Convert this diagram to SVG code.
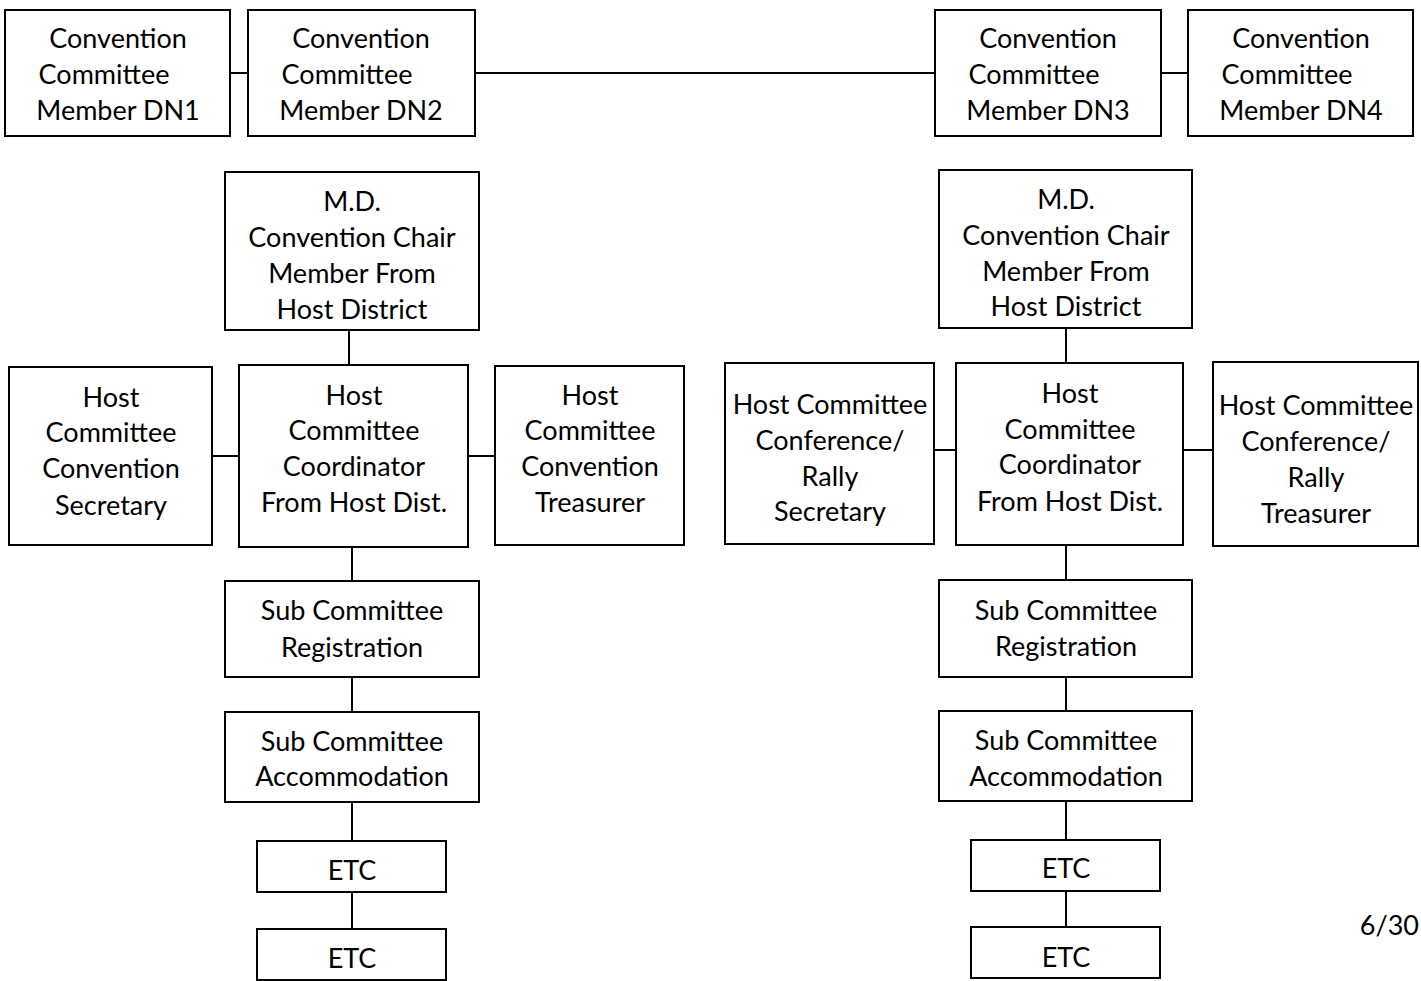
<svg xmlns="http://www.w3.org/2000/svg" width="1421" height="981" viewBox="0 0 1421 981">
<style>
rect{fill:#fff;stroke:#000;stroke-width:2}
line{stroke:#000;stroke-width:2}
text{font-family:Lato,"Open Sans",sans-serif;font-size:27px;fill:#000;text-anchor:middle;dominant-baseline:central}
</style>
<rect x="0" y="0" width="1421" height="981" style="stroke:none"/>
<g id="connectors">
<line x1="230" y1="73" x2="248" y2="73"/>
<line x1="475" y1="73" x2="935" y2="73"/>
<line x1="1161" y1="73" x2="1188" y2="73"/>
<line x1="349" y1="330" x2="349" y2="365"/>
<line x1="212" y1="456" x2="239" y2="456"/>
<line x1="468" y1="456" x2="495" y2="456"/>
<line x1="352" y1="547" x2="352" y2="581"/>
<line x1="352" y1="677" x2="352" y2="712"/>
<line x1="352" y1="802" x2="352" y2="841"/>
<line x1="352" y1="892" x2="352" y2="929"/>
<line x1="1066" y1="328" x2="1066" y2="363"/>
<line x1="934" y1="450" x2="956" y2="450"/>
<line x1="1183" y1="450" x2="1213" y2="450"/>
<line x1="1066" y1="545" x2="1066" y2="580"/>
<line x1="1066" y1="677" x2="1066" y2="711"/>
<line x1="1066" y1="801" x2="1066" y2="840"/>
<line x1="1066" y1="891" x2="1066" y2="927"/>
</g>
<g id="dn1"><rect x="5" y="10" width="225" height="126"/><text x="118" y="37">Convention</text><text x="104" y="73">Committee</text><text x="118" y="109">Member DN1</text></g>
<g id="dn2"><rect x="248" y="10" width="227" height="126"/><text x="361" y="37">Convention</text><text x="347" y="73">Committee</text><text x="361" y="109">Member DN2</text></g>
<g id="dn3"><rect x="935" y="10" width="226" height="126"/><text x="1048" y="37">Convention</text><text x="1034" y="73">Committee</text><text x="1048" y="109">Member DN3</text></g>
<g id="dn4"><rect x="1188" y="10" width="225" height="126"/><text x="1301" y="37">Convention</text><text x="1287" y="73">Committee</text><text x="1301" y="109">Member DN4</text></g>

<g id="md-left"><rect x="225" y="172" width="254" height="158"/><text x="352" y="200">M.D.</text><text x="352" y="236">Convention Chair</text><text x="352" y="272">Member From</text><text x="352" y="308">Host District</text></g>
<g id="coord-left"><rect x="239" y="365" width="229" height="182"/><text x="354" y="394">Host</text><text x="354" y="429">Committee</text><text x="354" y="465">Coordinator</text><text x="354" y="501">From Host Dist.</text></g>
<g id="sec-left"><rect x="9" y="367" width="203" height="178"/><text x="111" y="396">Host</text><text x="111" y="431">Committee</text><text x="111" y="467">Convention</text><text x="111" y="504">Secretary</text></g>
<g id="tre-left"><rect x="495" y="366" width="189" height="179"/><text x="590" y="394">Host</text><text x="590" y="429">Committee</text><text x="590" y="465">Convention</text><text x="590" y="501">Treasurer</text></g>
<g id="reg-left"><rect x="225" y="581" width="254" height="96"/><text x="352" y="609">Sub Committee</text><text x="352" y="646">Registration</text></g>
<g id="acc-left"><rect x="225" y="712" width="254" height="90"/><text x="352" y="740">Sub Committee</text><text x="352" y="775">Accommodation</text></g>
<g id="etc1-left"><rect x="257" y="841" width="189" height="51"/><text x="352" y="869">ETC</text></g>
<g id="etc2-left"><rect x="257" y="929" width="189" height="51"/><text x="352" y="957">ETC</text></g>

<g id="md-right"><rect x="939" y="170" width="253" height="158"/><text x="1066" y="198">M.D.</text><text x="1066" y="234">Convention Chair</text><text x="1066" y="270">Member From</text><text x="1066" y="305">Host District</text></g>
<g id="coord-right"><rect x="956" y="363" width="227" height="182"/><text x="1070" y="392">Host</text><text x="1070" y="428">Committee</text><text x="1070" y="463">Coordinator</text><text x="1070" y="500">From Host Dist.</text></g>
<g id="sec-right"><rect x="725" y="363" width="209" height="181"/><text x="830" y="403">Host Committee</text><text x="830" y="439">Conference/</text><text x="830" y="475">Rally</text><text x="830" y="510">Secretary</text></g>
<g id="tre-right"><rect x="1213" y="362" width="205" height="184"/><text x="1316" y="404">Host Committee</text><text x="1316" y="440">Conference/</text><text x="1316" y="476">Rally</text><text x="1316" y="512">Treasurer</text></g>
<g id="reg-right"><rect x="939" y="580" width="253" height="97"/><text x="1066" y="609">Sub Committee</text><text x="1066" y="645">Registration</text></g>
<g id="acc-right"><rect x="939" y="711" width="253" height="90"/><text x="1066" y="739">Sub Committee</text><text x="1066" y="775">Accommodation</text></g>
<g id="etc1-right"><rect x="971" y="840" width="189" height="51"/><text x="1066" y="867">ETC</text></g>
<g id="etc2-right"><rect x="971" y="927" width="189" height="51"/><text x="1066" y="956">ETC</text></g>

<text x="1419" y="924" style="text-anchor:end">6/30</text>
</svg>
